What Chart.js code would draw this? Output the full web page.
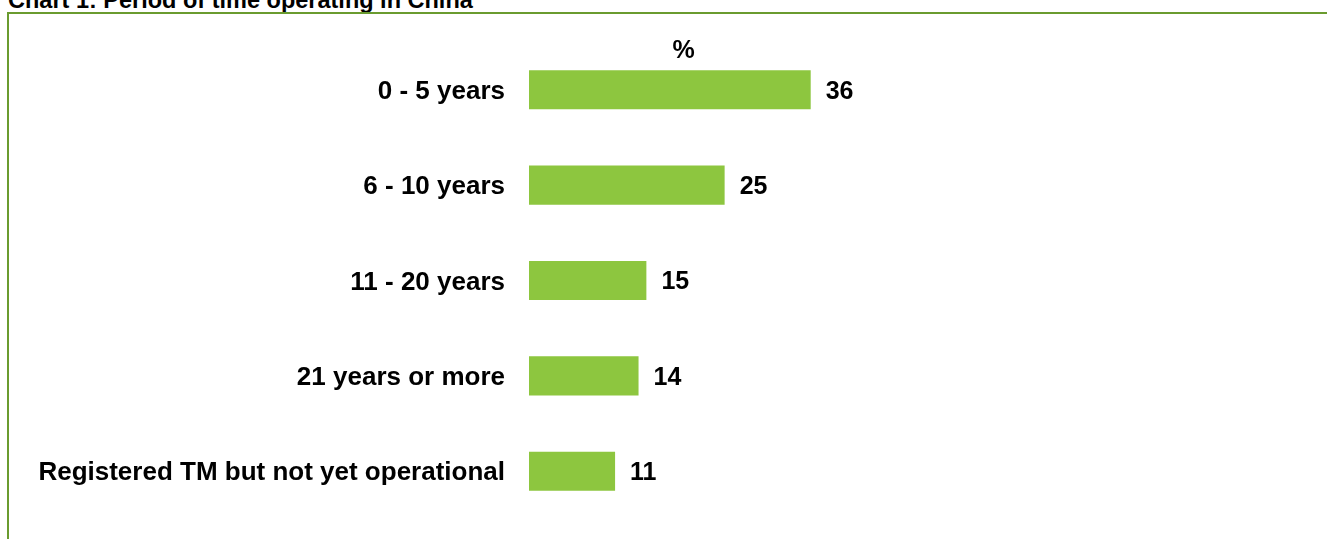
<!DOCTYPE html>
<html>
<head>
<meta charset="utf-8">
<script src="https://cdn.jsdelivr.net/npm/chart.js@4.4.0/dist/chart.umd.min.js"></script>
<style>
  html, body { margin: 0; padding: 0; background: #fff; overflow: hidden; }
  #wrap { position: relative; width: 1327px; height: 539px; }
  #title {
    position: absolute; left: 8px; top: -12px;
    font: bold 23.5px "Liberation Sans", Arial, sans-serif; line-height: 24px;
    color: #000; white-space: nowrap;
  }
  /* green frame around the chart, only top and left edges show */
  #frame {
    position: absolute; left: 7px; top: 12px; right: -10px; bottom: -10px;
    border-top: 2px solid #6a9b2f; border-left: 2px solid #6a9b2f;
  }
  #chartBox { position: absolute; left: 0; top: 0; width: 1327px; height: 539px; }
</style>
</head>
<body>
<div id="wrap">
  <div id="title">Chart 1: Period of time operating in China</div>
  <div id="frame"></div>
  <div id="chartBox"><canvas id="myChart"></canvas></div>
</div>
<script>
// Kategorien und Werte (Prozent)
const categories = ['0 - 5 years', '6 - 10 years', '11 - 20 years', '21 years or more', 'Registered TM but not yet operational'];
const values = [36, 25, 15, 14, 11];
const axisUnit = '%';

const barColor = '#8dc63f';
const labelFont = { family: '"Liberation Sans", Arial, sans-serif', size: 26, weight: 'bold' };

// Zahlen rechts neben den Balken + "%" über der Achse
const valueLabels = {
  id: 'valueLabels',
  afterDatasetsDraw(chart) {
    const ctx = chart.ctx;
    const meta = chart.getDatasetMeta(0);
    ctx.save();
    ctx.font = 'bold 25px "Liberation Sans", Arial, sans-serif';
    ctx.fillStyle = '#000';
    ctx.textBaseline = 'middle';
    ctx.textAlign = 'left';
    meta.data.forEach(function(bar, i) {
      ctx.fillText(values[i], bar.x + 15, bar.y + 2);
    });
    const x = chart.scales.x;
    ctx.textAlign = 'center';
    ctx.fillText(axisUnit, (x.left + x.right) / 2 - 2, chart.chartArea.top + 9);
    ctx.restore();
  }
};

const config = {
  type: 'bar',
  data: {
    labels: categories,
    datasets: [{
      data: values,
      backgroundColor: barColor,
      borderWidth: 0,
      categoryPercentage: 1,
      barPercentage: 0.41
    }]
  },
  options: {
    indexAxis: 'y',
    responsive: true,
    maintainAspectRatio: false,
    animation: false,
    layout: { padding: { top: 42, bottom: 20, left: 0, right: 485 } },
    plugins: { legend: { display: false }, tooltip: { enabled: false } },
    scales: {
      x: {
        display: false,
        min: 0,
        max: 40
      },
      y: {
        grid: { display: false, drawTicks: false },
        border: { display: false },
        ticks: { color: '#000', font: labelFont, padding: 24, labelOffset: 2 },
        afterFit: function(scale) {
          scale.width = 529;
          // kein Extra-Rand oben/unten für die Beschriftungen
          scale.paddingTop = 0;
          scale.paddingBottom = 0;
        }
      }
    }
  },
  plugins: [valueLabels]
};

const ctx = document.getElementById('myChart').getContext('2d');
const myChart = new Chart(ctx, config);
</script>
</body>
</html>
